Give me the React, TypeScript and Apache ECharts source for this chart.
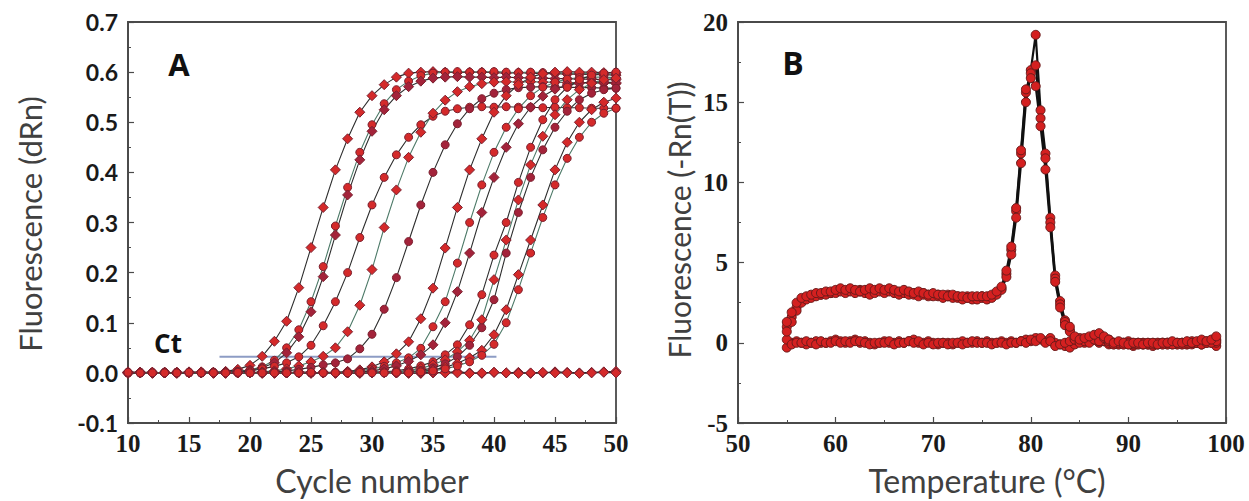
import React, { useEffect, useRef } from "react";
import * as echarts from "echarts";

// ---------- Panel A: amplification curves ----------
const cyclesA = [10, 11, 12, 13, 14, 15, 16, 17, 18, 19, 20, 21, 22, 23, 24, 25, 26, 27, 28, 29, 30, 31, 32, 33, 34, 35, 36, 37, 38, 39, 40, 41, 42, 43, 44, 45, 46, 47, 48, 49, 50];

const ampA1 = [0.000, 0.001, 0.000, 0.001, 0.000, 0.001, 0.002, 0.001, 0.003, 0.007,
  0.015, 0.033, 0.063, 0.103, 0.170, 0.250, 0.330, 0.405, 0.467, 0.520,
  0.553, 0.575, 0.590, 0.598, 0.600, 0.601, 0.600, 0.599, 0.600, 0.600,
  0.599, 0.598, 0.599, 0.598, 0.597, 0.597, 0.596, 0.596, 0.595, 0.595, 0.594];
const ampA2 = [0.001, 0.000, 0.000, 0.001, 0.000, 0.001, 0.000, 0.001, 0.001, 0.003,
  0.006, 0.012, 0.025, 0.050, 0.086, 0.142, 0.212, 0.293, 0.370, 0.440,
  0.495, 0.537, 0.565, 0.582, 0.593, 0.598, 0.600, 0.601, 0.600, 0.600,
  0.601, 0.600, 0.599, 0.600, 0.599, 0.598, 0.598, 0.597, 0.597, 0.596, 0.596];
const ampA3 = [0.000, 0.001, 0.001, 0.000, 0.001, 0.000, 0.001, 0.000, 0.001, 0.002,
  0.005, 0.010, 0.020, 0.040, 0.072, 0.122, 0.192, 0.275, 0.355, 0.425,
  0.482, 0.525, 0.553, 0.571, 0.582, 0.588, 0.590, 0.591, 0.590, 0.590,
  0.589, 0.590, 0.589, 0.588, 0.588, 0.587, 0.587, 0.586, 0.586, 0.585, 0.585];
const ampA4 = [0.000, 0.000, 0.001, 0.000, 0.001, 0.000, 0.001, 0.001, 0.000, 0.002,
  0.004, 0.008, 0.013, 0.020, 0.032, 0.055, 0.094, 0.142, 0.200, 0.270,
  0.335, 0.390, 0.435, 0.470, 0.495, 0.512, 0.522, 0.527, 0.530, 0.531,
  0.530, 0.531, 0.530, 0.530, 0.529, 0.530, 0.529, 0.529, 0.528, 0.528, 0.528];
const ampA5 = [0.001, 0.000, 0.000, 0.001, 0.000, 0.000, 0.001, 0.000, 0.001, 0.000,
  0.001, 0.002, 0.004, 0.008, 0.014, 0.022, 0.033, 0.050, 0.082, 0.135,
  0.206, 0.290, 0.365, 0.430, 0.480, 0.518, 0.544, 0.561, 0.571, 0.577,
  0.580, 0.581, 0.580, 0.581, 0.580, 0.580, 0.579, 0.579, 0.578, 0.578, 0.577];
const ampA6 = [0.000, 0.001, 0.000, 0.000, 0.001, 0.000, 0.001, 0.000, 0.000, 0.001,
  0.000, 0.001, 0.002, 0.004, 0.007, 0.011, 0.016, 0.020, 0.028, 0.048,
  0.077, 0.127, 0.190, 0.262, 0.335, 0.400, 0.455, 0.497, 0.527, 0.547,
  0.558, 0.565, 0.569, 0.570, 0.571, 0.570, 0.570, 0.569, 0.569, 0.568, 0.568];
const ampA7 = [0.000, 0.000, 0.001, 0.000, 0.000, 0.001, 0.000, 0.001, 0.000, 0.000,
  0.001, 0.000, 0.001, 0.000, 0.001, 0.000, 0.001, 0.001, 0.003, 0.006,
  0.012, 0.022, 0.038, 0.062, 0.108, 0.169, 0.249, 0.330, 0.405, 0.467,
  0.520, 0.553, 0.575, 0.590, 0.597, 0.600, 0.601, 0.600, 0.600, 0.599, 0.599];
const ampA8 = [0.001, 0.000, 0.000, 0.000, 0.001, 0.000, 0.000, 0.001, 0.000, 0.001,
  0.000, 0.000, 0.001, 0.000, 0.001, 0.000, 0.001, 0.000, 0.002, 0.004,
  0.008, 0.013, 0.020, 0.030, 0.049, 0.092, 0.142, 0.219, 0.300, 0.375,
  0.440, 0.490, 0.527, 0.553, 0.570, 0.580, 0.586, 0.589, 0.590, 0.590, 0.589];
const ampA9 = [0.000, 0.001, 0.000, 0.001, 0.000, 0.000, 0.001, 0.000, 0.000, 0.000,
  0.001, 0.000, 0.000, 0.001, 0.000, 0.001, 0.000, 0.000, 0.001, 0.002,
  0.004, 0.008, 0.014, 0.023, 0.036, 0.056, 0.100, 0.162, 0.239, 0.320,
  0.390, 0.450, 0.497, 0.530, 0.552, 0.566, 0.574, 0.578, 0.580, 0.580, 0.579];
const ampA10 = [0.000, 0.000, 0.000, 0.001, 0.000, 0.001, 0.000, 0.000, 0.001, 0.000,
  0.000, 0.001, 0.000, 0.000, 0.001, 0.000, 0.000, 0.001, 0.000, 0.000,
  0.001, 0.002, 0.004, 0.008, 0.014, 0.022, 0.036, 0.056, 0.096, 0.156,
  0.235, 0.300, 0.380, 0.450, 0.505, 0.545, 0.570, 0.585, 0.594, 0.598, 0.600];
const ampA11 = [0.001, 0.000, 0.000, 0.000, 0.001, 0.000, 0.000, 0.000, 0.001, 0.000,
  0.000, 0.000, 0.001, 0.000, 0.000, 0.001, 0.000, 0.000, 0.000, 0.001,
  0.000, 0.001, 0.002, 0.005, 0.009, 0.016, 0.026, 0.042, 0.065, 0.106,
  0.186, 0.265, 0.345, 0.415, 0.472, 0.515, 0.545, 0.565, 0.578, 0.585, 0.588];
const ampA12 = [0.000, 0.001, 0.000, 0.000, 0.000, 0.001, 0.000, 0.000, 0.000, 0.001,
  0.000, 0.000, 0.000, 0.001, 0.000, 0.000, 0.001, 0.000, 0.000, 0.000,
  0.001, 0.000, 0.001, 0.002, 0.005, 0.010, 0.018, 0.032, 0.055, 0.090,
  0.146, 0.239, 0.320, 0.390, 0.445, 0.490, 0.522, 0.545, 0.558, 0.565, 0.568];
const ampA13 = [0.000, 0.000, 0.001, 0.000, 0.000, 0.000, 0.001, 0.000, 0.000, 0.000,
  0.001, 0.000, 0.000, 0.000, 0.001, 0.000, 0.000, 0.000, 0.001, 0.000,
  0.000, 0.001, 0.000, 0.001, 0.003, 0.006, 0.011, 0.019, 0.030, 0.045,
  0.076, 0.126, 0.196, 0.265, 0.335, 0.405, 0.460, 0.500, 0.525, 0.540, 0.548];
const ampA14 = [0.001, 0.000, 0.000, 0.000, 0.000, 0.001, 0.000, 0.000, 0.000, 0.001,
  0.000, 0.000, 0.000, 0.000, 0.000, 0.001, 0.000, 0.000, 0.000, 0.001,
  0.000, 0.000, 0.001, 0.000, 0.002, 0.004, 0.008, 0.014, 0.022, 0.035,
  0.057, 0.100, 0.166, 0.239, 0.310, 0.375, 0.428, 0.470, 0.500, 0.518, 0.528];
const negA1 = [0.002, 0.001, -0.001, 0.001, 0.000, 0.002, 0.000, -0.001, 0.001, 0.002,
  0.000, 0.001, -0.001, 0.000, 0.002, 0.001, 0.000, -0.001, 0.001, 0.000,
  0.002, 0.001, 0.000, 0.001, -0.001, 0.000, 0.001, 0.002, 0.000, -0.001,
  0.001, 0.000, 0.001, -0.001, 0.000, 0.002, 0.001, 0.000, 0.001, 0.002, 0.003];
const negA2 = [-0.001, 0.000, 0.001, 0.000, -0.001, 0.000, 0.001, 0.000, -0.001, 0.000,
  0.001, -0.001, 0.000, 0.001, 0.000, -0.001, 0.001, 0.000, 0.000, -0.001,
  0.000, 0.001, 0.000, -0.001, 0.000, 0.001, 0.000, 0.000, -0.001, 0.000,
  0.001, 0.000, -0.001, 0.000, 0.001, 0.000, 0.000, -0.001, 0.000, 0.001, 0.000];

const ctCycles = [17.5, 40.2];
const ctValue = 0.032;

// ---------- Panel B: melt curves ----------
const tempsB = [55, 55.5, 56, 56.5, 57, 57.5, 58, 58.5, 59, 59.5,
  60, 60.5, 61, 61.5, 62, 62.5, 63, 63.5, 64, 64.5,
  65, 65.5, 66, 66.5, 67, 67.5, 68, 68.5, 69, 69.5,
  70, 70.5, 71, 71.5, 72, 72.5, 73, 73.5, 74, 74.5,
  75, 75.5, 76, 76.5, 77, 77.5, 78, 78.5, 79, 79.5,
  80, 80.5, 81, 81.5, 82, 82.5, 83, 83.5, 84, 84.5,
  85, 85.5, 86, 86.5, 87, 87.5, 88, 88.5, 89, 89.5,
  90, 90.5, 91, 91.5, 92, 92.5, 93, 93.5, 94, 94.5,
  95, 95.5, 96, 96.5, 97, 97.5, 98, 98.5, 99];

const meltB1 = [1.0, 1.6, 2.2, 2.6, 2.8, 2.9, 3.0, 3.0, 3.1, 3.1,
  3.2, 3.3, 3.2, 3.3, 3.2, 3.3, 3.2, 3.1, 3.2, 3.3,
  3.2, 3.3, 3.2, 3.1, 3.2, 3.1, 3.1, 3.0, 3.1, 3.0,
  3.0, 3.0, 2.9, 3.0, 2.9, 2.9, 2.8, 2.9, 2.8, 2.8,
  2.9, 2.8, 2.9, 3.1, 3.4, 4.3, 5.8, 8.2, 11.8, 15.6,
  17.0, 19.2, 14.5, 11.8, 7.8, 4.2, 2.6, 1.4, 0.8, 0.3,
  0.1, 0.0, 0.1, 0.2, 0.1, 0.3, 0.2, 0.0, -0.1, 0.0,
  0.1, -0.1, 0.0, -0.1, 0.0, -0.2, -0.1, 0.0, -0.1, 0.0,
  -0.1, 0.0, -0.1, 0.0, 0.0, -0.1, 0.0, 0.1, 0.2];
const meltB2 = [0.7, 1.3, 2.0, 2.5, 2.7, 2.8, 2.9, 3.0, 3.0, 3.1,
  3.1, 3.2, 3.1, 3.2, 3.1, 3.2, 3.1, 3.0, 3.1, 3.2,
  3.1, 3.2, 3.1, 3.0, 3.1, 3.0, 3.0, 2.9, 3.0, 2.9,
  2.9, 2.9, 2.8, 2.9, 2.8, 2.8, 2.7, 2.8, 2.7, 2.7,
  2.8, 2.7, 2.8, 3.0, 3.3, 4.1, 5.5, 7.8, 11.2, 15.0,
  16.8, 17.3, 14.0, 11.5, 7.5, 4.0, 2.4, 1.3, 0.7, 0.2,
  0.0, 0.1, 0.0, 0.2, 0.1, 0.3, 0.1, -0.1, 0.0, -0.1,
  0.0, 0.0, -0.1, 0.0, -0.1, -0.1, 0.0, -0.1, 0.0, -0.1,
  0.0, -0.1, 0.0, 0.1, 0.0, -0.1, 0.0, 0.0, 0.1];
const meltB3 = [1.3, 1.9, 2.5, 2.8, 2.9, 3.0, 3.1, 3.1, 3.2, 3.2,
  3.3, 3.4, 3.3, 3.4, 3.3, 3.2, 3.3, 3.4, 3.3, 3.4,
  3.3, 3.4, 3.3, 3.2, 3.3, 3.2, 3.1, 3.2, 3.1, 3.0,
  3.1, 3.0, 3.0, 2.9, 3.0, 2.9, 2.9, 2.8, 2.9, 2.9,
  2.9, 2.9, 3.0, 3.2, 3.5, 4.5, 6.0, 8.4, 12.0, 15.8,
  16.5, 16.0, 13.5, 10.8, 7.2, 3.8, 2.2, 1.1, 1.0, 0.4,
  0.2, 0.3, 0.4, 0.5, 0.6, 0.4, 0.2, 0.0, 0.1, 0.0,
  -0.1, 0.0, 0.0, -0.1, 0.0, 0.0, -0.1, 0.0, 0.0, 0.1,
  0.0, 0.0, 0.1, 0.0, 0.1, 0.2, 0.1, 0.2, 0.4];
const negB1 = [-0.3, 0.0, 0.1, 0.0, -0.1, 0.0, 0.1, 0.0, 0.0, 0.1,
  0.2, 0.1, 0.0, 0.1, 0.2, 0.0, 0.1, 0.0, -0.1, 0.0,
  0.1, 0.0, 0.0, 0.1, 0.0, 0.1, 0.2, 0.0, 0.0, 0.1,
  0.0, -0.1, 0.0, 0.0, -0.1, 0.0, 0.1, 0.0, 0.0, 0.1,
  0.0, 0.1, 0.0, 0.0, 0.1, 0.0, 0.1, 0.0, 0.1, 0.2,
  0.1, 0.3, 0.2, 0.1, 0.3, 0.0, -0.1, -0.2, -0.3, -0.1,
  0.1, 0.2, 0.3, 0.2, 0.0, 0.1, -0.1, 0.0, -0.1, 0.0,
  -0.1, -0.2, -0.1, 0.0, -0.1, -0.1, 0.0, -0.1, 0.0, -0.1,
  0.0, -0.1, 0.0, -0.1, 0.0, 0.0, 0.1, 0.0, -0.2];
const negB2 = [0.2, -0.1, 0.0, 0.0, 0.1, 0.0, -0.1, 0.1, 0.0, 0.0,
  0.1, 0.0, 0.1, 0.0, 0.1, 0.1, 0.0, -0.1, 0.0, 0.0,
  0.0, 0.1, -0.1, 0.0, 0.0, 0.1, 0.0, 0.1, -0.1, 0.0,
  -0.1, 0.0, 0.0, -0.1, 0.0, 0.0, -0.1, 0.0, 0.1, 0.0,
  0.0, 0.0, -0.1, 0.0, 0.0, -0.1, 0.0, 0.0, 0.1, 0.0,
  0.2, 0.1, 0.3, 0.0, 0.1, -0.2, -0.1, 0.0, 0.1, 0.2,
  0.3, 0.1, 0.2, 0.4, 0.2, 0.1, 0.0, -0.1, 0.0, -0.1,
  0.0, -0.1, 0.0, -0.1, -0.1, 0.0, -0.1, 0.0, -0.1, 0.0,
  -0.1, 0.0, -0.1, 0.0, 0.0, -0.1, 0.0, 0.1, 0.0];

const ampCurves = [ampA1, ampA2, ampA3, ampA4, ampA5, ampA6, ampA7, ampA8, ampA9, ampA10, ampA11, ampA12, ampA13, ampA14];
const negCurvesA = [negA1, negA2];
const meltCurves = [meltB1, meltB2, meltB3];
const negCurvesB = [negB1, negB2];

const AXIS = "#4a4a4a";
const labelSans = { fontFamily: "Lato", fontWeight: "bold" as const, fontSize: 23, color: "#1a1a1a" };
const labelSerif = { fontFamily: "Liberation Serif", fontWeight: "bold" as const, fontSize: 25, color: "#1a1a1a" };

function valueAxis(gridIndex: number, min: number, max: number, interval: number, label: any, margin: number, fmt?: (v: number) => string) {
  return {
    type: "value",
    gridIndex,
    min,
    max,
    interval,
    splitLine: { show: false },
    axisLine: { show: true, onZero: false, lineStyle: { color: AXIS, width: 1.8 } },
    axisTick: { show: true, inside: true, length: 6, lineStyle: { color: AXIS, width: 1.2 } },
    minorTick: { show: true, splitNumber: 2, length: 3, lineStyle: { color: AXIS, width: 1 } },
    axisLabel: { ...label, margin, formatter: fmt },
  };
}

export default function App() {
  const ref = useRef<HTMLDivElement>(null);
  useEffect(() => {
    if (!ref.current) return;
    const chart = echarts.init(ref.current, undefined, { renderer: "svg" });
    const series: any[] = [];
    negCurvesA.forEach((arr) => {
      series.push({
        type: "line", xAxisIndex: 0, yAxisIndex: 0,
        data: cyclesA.map((c, i) => [c, arr[i]]),
        symbol: "diamond", symbolSize: 10,
        lineStyle: { color: "#2b2b2b", width: 1.2 },
        itemStyle: { color: "#d42a2a", borderColor: "#7b1f2e", borderWidth: 1 },
      });
    });
    ampCurves.forEach((arr, k) => {
      series.push({
        type: "line", xAxisIndex: 0, yAxisIndex: 0,
        data: cyclesA.map((c, i) => [c, arr[i]]),
        symbol: k % 2 === 0 ? "diamond" : "circle",
        symbolSize: k % 2 === 0 ? 10 : 8,
        lineStyle: { color: k % 3 === 1 ? "#4d7a68" : "#2e2e2e", width: 1.1 },
        itemStyle: { color: k % 3 === 2 ? "#a3233a" : "#d42a2a", borderColor: "#7b1f2e", borderWidth: 1 },
      });
    });
    series.push({
      type: "line", xAxisIndex: 0, yAxisIndex: 0,
      data: ctCycles.map((c) => [c, ctValue]),
      symbol: "none",
      lineStyle: { color: "#8d9cc4", width: 2 },
      z: 1,
    });
    negCurvesB.forEach((arr) => {
      series.push({
        type: "line", xAxisIndex: 1, yAxisIndex: 1,
        data: tempsB.map((t, i) => [t, arr[i]]),
        symbol: "circle", symbolSize: 9,
        lineStyle: { color: "#222", width: 1.2 },
        itemStyle: { color: "#d42020", borderColor: "#6b1a1a", borderWidth: 1 },
      });
    });
    meltCurves.forEach((arr) => {
      series.push({
        type: "line", xAxisIndex: 1, yAxisIndex: 1,
        data: tempsB.map((t, i) => [t, arr[i]]),
        symbol: "circle", symbolSize: 9,
        lineStyle: { color: "#111", width: 2.2 },
        itemStyle: { color: "#d42020", borderColor: "#6b1a1a", borderWidth: 1 },
      });
    });

    chart.setOption({
      animation: false,
      backgroundColor: "#ffffff",
      grid: [
        { left: 128, top: 22, width: 488, height: 401, show: true, borderColor: AXIS, borderWidth: 1.8, containLabel: false },
        { left: 738, top: 22, width: 488, height: 401, show: true, borderColor: AXIS, borderWidth: 1.8, containLabel: false },
      ],
      xAxis: [
        valueAxis(0, 10, 50, 5, labelSerif, 8),
        valueAxis(1, 50, 100, 10, labelSerif, 8),
      ],
      yAxis: [
        valueAxis(0, -0.1, 0.7, 0.1, labelSans, 10, (v: number) => v.toFixed(1)),
        valueAxis(1, -5, 20, 5, labelSerif, 10),
      ],
      series,
      graphic: [
        { type: "text", x: 179, y: 64, style: { text: "A", font: "bold 31px 'Open Sans'", fill: "#111", align: "center", verticalAlign: "middle" } },
        { type: "text", x: 793, y: 62, style: { text: "B", font: "bold 32px 'Open Sans'", fill: "#111", align: "center", verticalAlign: "middle" } },
        { type: "text", x: 168, y: 343, style: { text: "Ct", font: "bold 26px 'Open Sans'", fill: "#111", align: "center", verticalAlign: "middle" } },
        { type: "text", x: 372, y: 480, style: { text: "Cycle number", font: "32px Lato", fill: "#404040", align: "center", verticalAlign: "middle" } },
        { type: "text", x: 987, y: 480, style: { text: "Temperature (°C)", font: "32px Lato", fill: "#404040", align: "center", verticalAlign: "middle" } },
        { type: "text", x: 30, y: 224, rotation: Math.PI / 2, style: { text: "Fluorescence (dRn)", font: "31px Lato", fill: "#404040", align: "center", verticalAlign: "middle" } },
        { type: "text", x: 679, y: 220, rotation: Math.PI / 2, style: { text: "Fluorescence (-Rn(T))", font: "30px Lato", fill: "#404040", align: "center", verticalAlign: "middle" } },
      ],
    });
    return () => chart.dispose();
  }, []);
  return <div ref={ref} style={{ position: "fixed", left: 0, top: 0, width: 1249, height: 501, background: "#fff" }} />;
}
